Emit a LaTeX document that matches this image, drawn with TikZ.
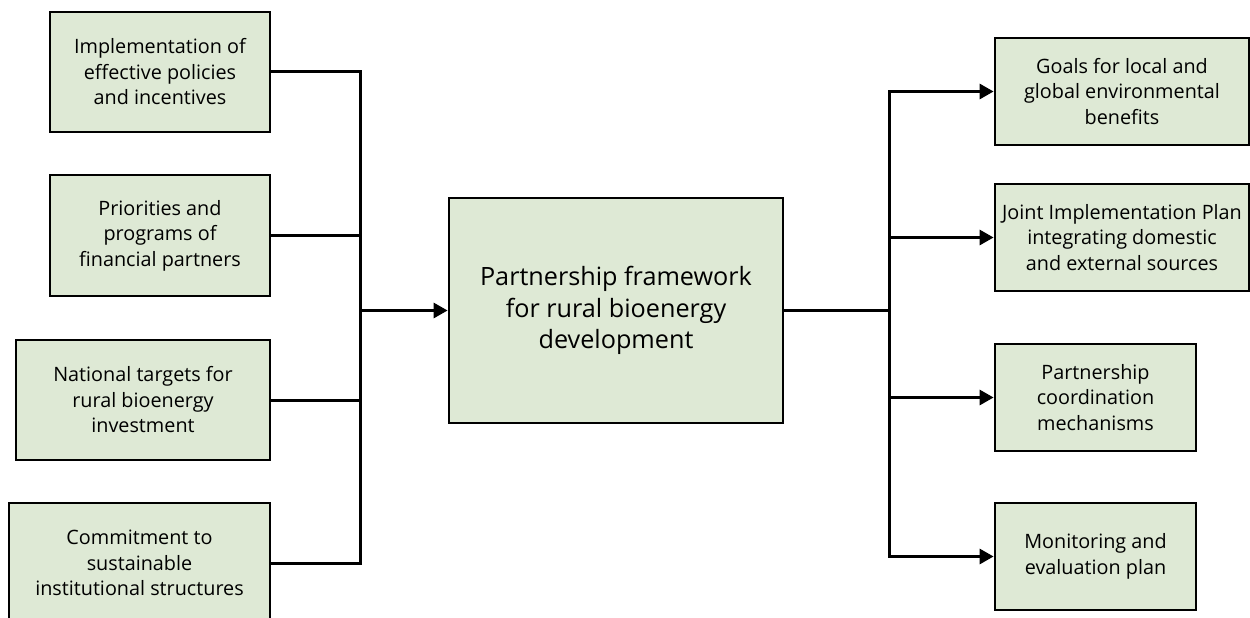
\documentclass[tikz,border=0pt]{standalone}
\usepackage{fontspec}
\setmainfont{Open Sans}
\usetikzlibrary{arrows.meta}
\definecolor{boxgreen}{RGB}{222,233,213}
\tikzset{
	box/.style={draw, line width=2.8pt, fill=boxgreen, align=center, inner sep=0pt,
		font=\fontsize{19.8}{25.5}\selectfont},
	link/.style={line width=3pt},
	arrowlink/.style={link, -{Triangle[length=14pt, width=15pt]}}
}
\begin{document}
\begin{tikzpicture}[x=1pt, y=-1pt]
	\clip (0,0) rectangle (1250,618);
	\fill[white] (0,0) rectangle (1250,618);
	% left column
	\node [box, minimum width=220pt, minimum height=120pt] (impl) at (160,72) {Implementation of\\effective policies\\and incentives};
	\node [box, minimum width=220pt, minimum height=121pt] (prior) at (160,235.5) {Priorities and\\programs of\\financial partners};
	\node [box, minimum width=254pt, minimum height=120pt] (targets) at (143,400) {National targets for\\rural bioenergy\\investment};
	\node [box, minimum width=261pt, minimum height=120pt] (commit) at (139.5,563) {Commitment to\\sustainable\\institutional structures};
	% centre
	\node [box, minimum width=334pt, minimum height=225pt, font=\fontsize{25.2}{31.5}\selectfont] (frame) at (616,310.5) {Partnership framework\\for rural bioenergy\\development};
	% right column
	\node [box, minimum width=254pt, minimum height=107pt] (goals) at (1122,91.5) {Goals for local and\\global environmental\\benefits};
	\node [box, minimum width=254pt, minimum height=107pt] (joint) at (1122,237.5) {Joint Implementation Plan\\integrating domestic\\and external sources};
	\node [box, minimum width=201pt, minimum height=107pt] (coord) at (1095.5,397.5) {Partnership\\coordination\\mechanisms};
	\node [box, minimum width=201pt, minimum height=107pt] (monitor) at (1095.5,556.5) {Monitoring and\\evaluation plan};
	% connectors
	\coordinate (jl) at (360,310.5);
	\coordinate (jr) at (889,310.5);
	\draw [link] (impl.east) -| (jl);
	\draw [link] (prior.east) -| (jl);
	\draw [link] (targets.east) -| (jl);
	\draw [link] (commit.east) -| (jl);
	\draw [arrowlink] (jl) -- (frame.west);
	\draw [link] (frame.east) -- (jr);
	\draw [arrowlink] (jr) |- (goals.west);
	\draw [arrowlink] (jr) |- (joint.west);
	\draw [arrowlink] (jr) |- (coord.west);
	\draw [arrowlink] (jr) |- (monitor.west);
\end{tikzpicture}
\end{document}
